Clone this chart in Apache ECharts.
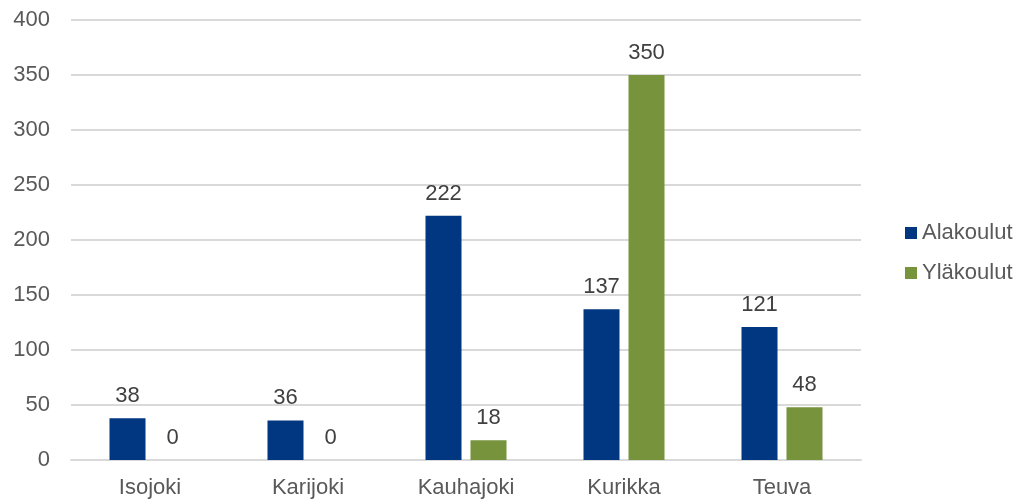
<!DOCTYPE html>
<html>
<head>
<meta charset="utf-8">
<script src="https://cdn.jsdelivr.net/npm/echarts@6/dist/echarts.min.js"></script>
<style>
  html, body { margin: 0; padding: 0; background: #fff; }
  #myChart { width: 1023px; height: 500px; }
</style>
</head>
<body>
<div id="myChart"></div>
<script>
const categories = ["Isojoki", "Karijoki", "Kauhajoki", "Kurikka", "Teuva"];
const alakoulut = [38, 36, 222, 137, 121];
const ylakoulut = [0, 0, 18, 350, 48];

let myChart = echarts.init(document.getElementById("myChart"));
const font = "Liberation Sans, Arial, sans-serif";

const labelStyle = {
  show: true,
  position: "top",
  distance: 11,
  color: "#404040",
  fontSize: 22,
  fontFamily: font,
};

myChart.setOption({
  animation: false,
  grid: { left: 71, right: 162, top: 20, bottom: 40 },
  legend: {
    orient: "vertical",
    left: 905,
    top: 222,
    padding: 0,
    itemWidth: 12,
    itemHeight: 12,
    itemGap: 18,
    icon: "rect",
    textStyle: { color: "#595959", fontSize: 22, fontFamily: font },
    data: ["Alakoulut", "Yläkoulut"],
  },
  xAxis: {
    type: "category",
    data: categories,
    axisTick: { show: false },
    axisLine: { lineStyle: { color: "#d9d9d9", width: 2 } },
    axisLabel: { color: "#595959", fontSize: 22, fontFamily: font, margin: 17 },
  },
  yAxis: {
    type: "value",
    min: 0,
    max: 400,
    interval: 50,
    axisLine: { show: false },
    axisTick: { show: false },
    splitLine: { lineStyle: { color: "#d9d9d9", width: 2 } },
    axisLabel: { color: "#595959", fontSize: 22, fontFamily: font, margin: 21 },
  },
  series: [
    {
      name: "Alakoulut",
      type: "bar",
      data: alakoulut,
      barWidth: 36,
      barGap: "25%",
      itemStyle: { color: "#003780" },
      label: labelStyle,
    },
    {
      name: "Yläkoulut",
      type: "bar",
      data: ylakoulut,
      barWidth: 36,
      itemStyle: { color: "#77933c" },
      label: labelStyle,
    },
  ],
});
</script>
</body>
</html>
